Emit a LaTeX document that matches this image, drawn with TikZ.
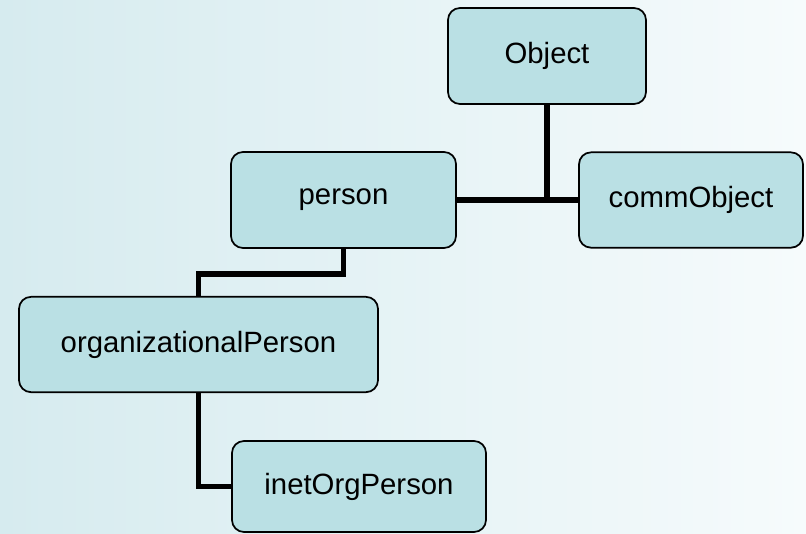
\documentclass[tikz,border=0pt]{standalone}
\usepackage{fontspec}
\setmainfont{Liberation Sans}
\definecolor{bgleft}{RGB}{214,235,239}
\definecolor{bgright}{RGB}{246,251,252}
\definecolor{classfill}{RGB}{186,224,228}
\usetikzlibrary{positioning}
\tikzset{
  classbox/.style={draw=black, line width=1.3pt, fill=classfill, rounded corners=9pt,
    minimum height=71.5pt, inner sep=0pt, font=\fontsize{22}{26}\selectfont},
  link/.style={line width=4.2pt, black}
}
\begin{document}
\begin{tikzpicture}[x=0.75pt, y=-0.75pt]
  % page and background
  \useasboundingbox (0,0) rectangle (806,533);
  \shade[left color=bgleft, right color=bgright] (0,0) rectangle (806,533);
  % class boxes
  \node[classbox, minimum width=148.5pt, minimum height=72pt] (object) at (547,56) {Object};
  \node[classbox, minimum width=168.75pt, minimum height=72pt] (person) at (343.5,200) {person};
  \node[classbox, minimum width=168pt] (comm) at (691,200) {commObject};
  \node[classbox, minimum width=269.25pt] (org) at (198.5,344.5) {organizationalPerson};
  \node[classbox, minimum width=190.5pt, minimum height=68.25pt] (inet) at (359,486.5) {inetOrgPerson};
  % inheritance lines
  \draw[link] (person.east) -- (comm.west);
  \draw[link] (object.south) -- (object.south |- comm.west);
  \draw[link] (person.south) -- ++(0,25) -| (org.north);
  \draw[link] (org.south) |- (inet.west);
\end{tikzpicture}
\end{document}
